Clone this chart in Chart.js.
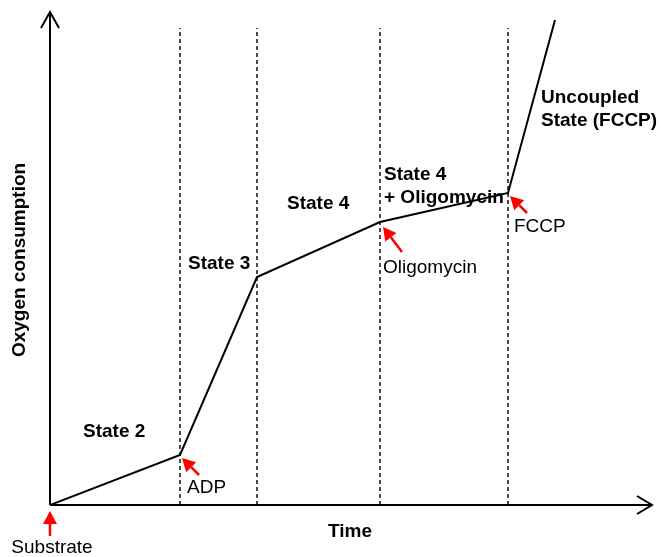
<!DOCTYPE html>
<html>
<head>
<meta charset="utf-8">
<script src="https://cdn.jsdelivr.net/npm/chart.js@4.4.0/dist/chart.umd.min.js"></script>
<style>
  html, body { margin: 0; padding: 0; background: #fff; }
  #wrap { width: 661px; height: 557px; }
</style>
</head>
<body>
<div id="wrap"><canvas id="chart" width="661" height="557"></canvas></div>
<script>
// Data (time, oxygen consumption) in arbitrary units
const traceX = [0, 130, 207, 330, 458, 505];
const traceY = [0, 50, 228, 283, 312, 485];
const transitionX = [130, 207, 330, 458];
const dashTop = 477;

// Additions: label + index of the trace point they point at
const additions = ['Substrate', 'ADP', 'Oligomycin', 'FCCP'];
const additionIdx = [0, 1, 3, 4];

const stateLabels = [
    { lines: ['State 2'], x: 33, y: 73 },
    { lines: ['State 3'], x: 138, y: 241 },
    { lines: ['State 4'], x: 237, y: 301 },
    { lines: ['State 4', '+ Oligomycin'], x: 334, y: 330 },
    { lines: ['Uncoupled', 'State (FCCP)'], x: 491, y: 407 }
];

const FONT = 'Arial, "Liberation Sans", sans-serif';

const tracePoints = traceX.map((x, i) => ({ x: x, y: traceY[i] }));
const dashSets = transitionX.map(x => ({
    data: [{ x: x, y: 0 }, { x: x, y: dashTop }],
    borderColor: '#000',
    borderWidth: 1.4,
    borderDash: [4, 3],
    pointRadius: 0,
    fill: false
}));

function redArrow(ctx, x1, y1, x2, y2) {
    // tail (x1,y1) -> tip (x2,y2)
    const ang = Math.atan2(y2 - y1, x2 - x1);
    const head = 13, half = 7;
    const bx = x2 - head * Math.cos(ang), by = y2 - head * Math.sin(ang);
    ctx.save();
    ctx.strokeStyle = '#ff0000';
    ctx.fillStyle = '#ff0000';
    ctx.lineWidth = 2.5;
    ctx.beginPath();
    ctx.moveTo(x1, y1);
    ctx.lineTo(bx, by);
    ctx.stroke();
    ctx.beginPath();
    ctx.moveTo(x2, y2);
    ctx.lineTo(bx + half * Math.sin(ang), by - half * Math.cos(ang));
    ctx.lineTo(bx - half * Math.sin(ang), by + half * Math.cos(ang));
    ctx.closePath();
    ctx.fill();
    ctx.restore();
}

const decorations = {
    id: 'decorations',
    afterDatasetsDraw(chart) {
        const ctx = chart.ctx;
        const xs = chart.scales.x, ys = chart.scales.y;
        const ox = xs.getPixelForValue(0), oy = ys.getPixelForValue(0);
        const right = chart.chartArea.right, top = chart.chartArea.top;

        // axes with open arrowheads
        ctx.save();
        ctx.strokeStyle = '#000';
        ctx.lineWidth = 2;
        ctx.beginPath();
        ctx.moveTo(ox, oy);
        ctx.lineTo(ox, top - 3);
        ctx.moveTo(ox - 9, top + 13);
        ctx.lineTo(ox, top - 3);
        ctx.lineTo(ox + 9, top + 13);
        ctx.moveTo(ox, oy);
        ctx.lineTo(right + 2, oy);
        ctx.moveTo(right - 13, oy - 9);
        ctx.lineTo(right + 2, oy);
        ctx.lineTo(right - 13, oy + 9);
        ctx.stroke();
        ctx.restore();

        // state labels
        ctx.save();
        ctx.fillStyle = '#000';
        ctx.font = 'bold 19px ' + FONT;
        ctx.textBaseline = 'middle';
        stateLabels.forEach(s => {
            s.lines.forEach((line, j) => {
                ctx.fillText(line, xs.getPixelForValue(s.x), ys.getPixelForValue(s.y) + j * 23);
            });
        });

        // axis titles
        ctx.textAlign = 'center';
        ctx.fillText('Time', xs.getPixelForValue(300), oy + 27);
        ctx.save();
        ctx.translate(20, ys.getPixelForValue(245));
        ctx.rotate(-Math.PI / 2);
        ctx.fillText('Oxygen consumption', 0, 0);
        ctx.restore();
        ctx.restore();

        // additions: red arrows + labels
        ctx.save();
        ctx.font = '19px ' + FONT;
        ctx.fillStyle = '#000';
        ctx.textBaseline = 'middle';
        additionIdx.forEach((idx, k) => {
            const px = xs.getPixelForValue(traceX[idx]);
            const py = ys.getPixelForValue(traceY[idx]);
            if (k === 0) {
                redArrow(ctx, px, py + 31, px, py + 6);
                ctx.textAlign = 'center';
                ctx.fillText(additions[k], px + 2, py + 43);
            } else if (k === 2) {
                redArrow(ctx, px + 22, py + 30, px + 3, py + 5);
                ctx.textAlign = 'left';
                ctx.fillText(additions[k], px + 3, py + 46);
            } else {
                redArrow(ctx, px + 19, py + 20, px + 2, py + 3);
                ctx.textAlign = 'left';
                ctx.fillText(additions[k], px + (k === 1 ? 7 : 6), py + (k === 1 ? 33 : 34));
            }
        });
        ctx.restore();
    }
};

new Chart(document.getElementById('chart'), {
    type: 'line',
    data: {
        datasets: [{
            data: tracePoints,
            borderColor: '#000',
            borderWidth: 2,
            pointRadius: 0,
            tension: 0,
            fill: false
        }].concat(dashSets)
    },
    options: {
        responsive: false,
        animation: false,
        layout: { padding: { left: 50, right: 11, top: 15, bottom: 52 } },
        scales: {
            x: { type: 'linear', min: 0, max: 600, display: false },
            y: { type: 'linear', min: 0, max: 490, display: false }
        },
        plugins: {
            legend: { display: false },
            tooltip: { enabled: false }
        }
    },
    plugins: [decorations]
});
</script>
</body>
</html>
